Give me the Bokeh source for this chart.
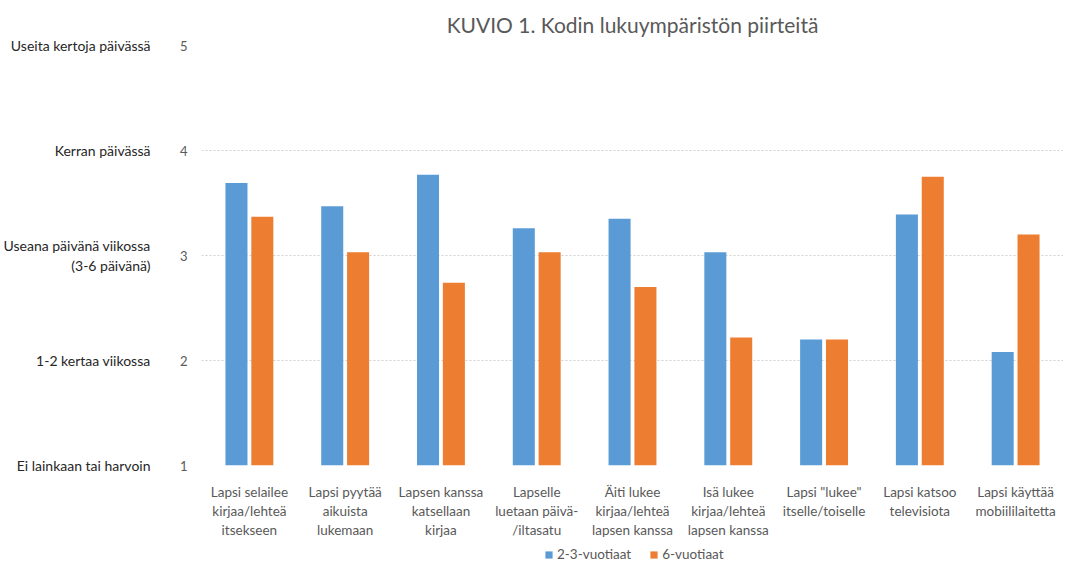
from bokeh.plotting import figure
from bokeh.layouts import column
from bokeh.models import ColumnDataSource, FactorRange, LinearAxis, Legend, LegendItem, FixedTicker
from bokeh.transform import dodge
from bokeh.embed import file_html
from bokeh.resources import INLINE

categories = [
    "Lapsi selailee\nkirjaa/lehteä\nitsekseen",
    "Lapsi pyytää\naikuista\nlukemaan",
    "Lapsen kanssa\nkatsellaan\nkirjaa",
    "Lapselle\nluetaan päivä-\n/iltasatu",
    "Äiti lukee\nkirjaa/lehteä\nlapsen kanssa",
    "Isä lukee\nkirjaa/lehteä\nlapsen kanssa",
    "Lapsi \"lukee\"\nitselle/toiselle",
    "Lapsi katsoo\ntelevisiota",
    "Lapsi käyttää\nmobiililaitetta",
]
age_2_3 = [3.69, 3.47, 3.77, 3.26, 3.35, 3.03, 2.20, 3.39, 2.08]
age_6 = [3.37, 3.03, 2.74, 3.03, 2.70, 2.22, 2.20, 3.75, 3.20]
series_names = ["2-3-vuotiaat", "6-vuotiaat"]
y_ticks = [1, 2, 3, 4, 5]
y_tick_labels = [
    "Ei lainkaan tai harvoin",
    "1-2 kertaa viikossa",
    "Useana päivänä viikossa\n(3-6 päivänä)",
    "Kerran päivässä",
    "Useita kertoja päivässä",
]

FONT = "Lato"
GRAY = "#595959"
BLUE = "#5b9bd5"
ORANGE = "#ed7d31"

source = ColumnDataSource(dict(cat=categories, a=age_2_3, b=age_6))

p = figure(
    x_range=FactorRange(*categories),
    y_range=(1, 5),
    frame_width=862,
    frame_height=420,
    output_backend="svg",
    toolbar_location=None,
    title="KUVIO 1. Kodin lukuympäristön piirteitä",
    min_border_top=8,
    min_border_right=0,
    min_border_left=0,
    min_border_bottom=0,
)
p.title.align = "center"
p.title.text_font = FONT
p.title.text_font_size = "21px"
p.title.text_font_style = "normal"
p.title.text_color = GRAY
p.title.standoff = 18
p.outline_line_color = None

r1 = p.vbar(x=dodge("cat", -0.135, range=p.x_range), top="a", bottom=1, width=0.23,
            source=source, fill_color=BLUE, line_color=None)
r2 = p.vbar(x=dodge("cat", 0.135, range=p.x_range), top="b", bottom=1, width=0.23,
            source=source, fill_color=ORANGE, line_color=None)

# numeric axis
ya = p.yaxis[0]
ya.ticker = FixedTicker(ticks=y_ticks)
ya.axis_line_color = None
ya.major_tick_line_color = None
ya.minor_tick_line_color = None
ya.major_label_text_font = FONT
ya.major_label_text_font_size = "13px"
ya.major_label_text_color = GRAY
ya.major_label_standoff = 8

# text axis
ta = LinearAxis(ticker=FixedTicker(ticks=y_ticks),
                major_label_overrides={t: l for t, l in zip(y_ticks, y_tick_labels)})
ta.axis_line_color = None
ta.major_tick_line_color = None
ta.minor_tick_line_color = None
ta.major_label_text_font = FONT
ta.major_label_text_font_size = "14px"
ta.major_label_text_color = "#262626"
ta.major_label_standoff = 20
p.add_layout(ta, "left")

xa = p.xaxis[0]
xa.axis_line_color = None
xa.major_tick_line_color = None
xa.minor_tick_line_color = None
xa.major_label_text_font = FONT
xa.major_label_text_font_size = "13.5px"
xa.major_label_text_color = GRAY
xa.major_label_standoff = 12

p.xgrid.grid_line_color = None
p.ygrid.ticker = FixedTicker(ticks=y_ticks)
p.ygrid.grid_line_color = "#d0d0d0"
p.ygrid.grid_line_dash = "2 2"

# legend in its own strip below the chart
p2 = figure(
    width=1055, height=26,
    x_range=(0, 1), y_range=(0, 1),
    output_backend="svg", toolbar_location=None,
    min_border=0,
)
p2.axis.visible = False
p2.grid.visible = False
p2.outline_line_color = None
l1 = p2.vbar(x=[-10], top=[-10], bottom=-11, width=0.1, fill_color=BLUE, line_color=None)
l2 = p2.vbar(x=[-10], top=[-10], bottom=-11, width=0.1, fill_color=ORANGE, line_color=None)

legend = Legend(items=[LegendItem(label=series_names[0], renderers=[l1]),
                       LegendItem(label=series_names[1], renderers=[l2])],
                orientation="horizontal", location=(343, 4))
legend.label_text_font = FONT
legend.label_text_font_size = "13.5px"
legend.label_text_color = GRAY
legend.label_height = 12
legend.label_standoff = 4
legend.glyph_width = 9
legend.glyph_height = 9
legend.spacing = 18
legend.border_line_color = None
legend.background_fill_alpha = 0
legend.padding = 0
legend.margin = 0
p2.add_layout(legend, "center")

layout = column(p, p2, spacing=0)
open("out.html", "w").write(file_html(layout, INLINE))
